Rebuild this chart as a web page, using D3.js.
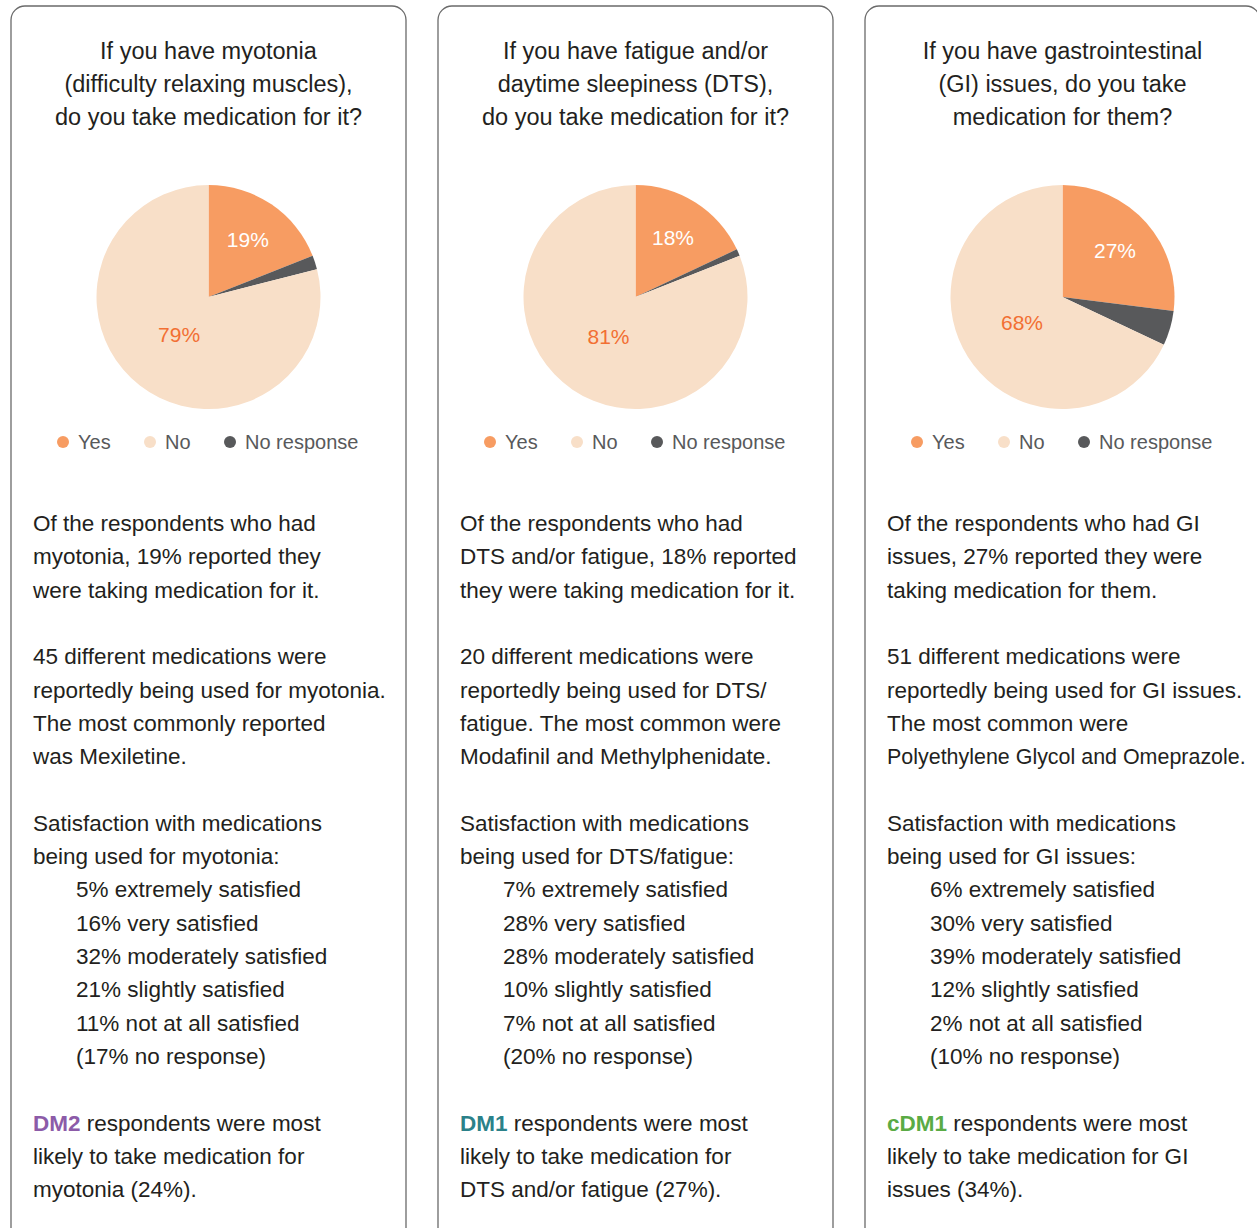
<!DOCTYPE html>
<html>
<head>
<meta charset="utf-8">
<script src="https://cdn.jsdelivr.net/npm/d3@7"></script>
<style>
  html, body { margin: 0; padding: 0; background: #ffffff; }
  svg { display: block; }
  text { font-family: "Liberation Sans", Arial, sans-serif; }
</style>
</head>
<body>
<svg id="chart" width="1257" height="1228"></svg>
<script>
// Slice categories and colours
const categories = ["Yes", "No response", "No"];
const legendOrder = ["Yes", "No", "No response"];
const sliceColors = { "Yes": "#f79c62", "No": "#f8dfc8", "No response": "#58595b" };

// Percentages per panel (myotonia, fatigue/DTS, GI)
const yesValues = [19, 18, 27];
const noResponseValues = [2, 1, 5];
const noValues = [79, 81, 68];

// Panel titles
const titles = [
  ["If you have myotonia", "(difficulty relaxing muscles),", "do you take medication for it?"],
  ["If you have fatigue and/or", "daytime sleepiness (DTS),", "do you take medication for it?"],
  ["If you have gastrointestinal", "(GI) issues, do you take", "medication for them?"]
];

// Body copy: each entry is [text, indented]
const bodyLines = [
  [
    ["Of the respondents who had", false], ["myotonia, 19% reported they", false], ["were taking medication for it.", false], ["", false],
    ["45 different medications were", false], ["reportedly being used for myotonia.", false], ["The most commonly reported", false], ["was Mexiletine.", false], ["", false],
    ["Satisfaction with medications", false], ["being used for myotonia:", false],
    ["5% extremely satisfied", true], ["16% very satisfied", true], ["32% moderately satisfied", true], ["21% slightly satisfied", true], ["11% not at all satisfied", true], ["(17% no response)", true]
  ],
  [
    ["Of the respondents who had", false], ["DTS and/or fatigue, 18% reported", false], ["they were taking medication for it.", false], ["", false],
    ["20 different medications were", false], ["reportedly being used for DTS/", false], ["fatigue. The most common were", false], ["Modafinil and Methylphenidate.", false], ["", false],
    ["Satisfaction with medications", false], ["being used for DTS/fatigue:", false],
    ["7% extremely satisfied", true], ["28% very satisfied", true], ["28% moderately satisfied", true], ["10% slightly satisfied", true], ["7% not at all satisfied", true], ["(20% no response)", true]
  ],
  [
    ["Of the respondents who had GI", false], ["issues, 27% reported they were", false], ["taking medication for them.", false], ["", false],
    ["51 different medications were", false], ["reportedly being used for GI issues.", false], ["The most common were", false], ["Polyethylene Glycol and Omeprazole.", false], ["", false],
    ["Satisfaction with medications", false], ["being used for GI issues:", false],
    ["6% extremely satisfied", true], ["30% very satisfied", true], ["39% moderately satisfied", true], ["12% slightly satisfied", true], ["2% not at all satisfied", true], ["(10% no response)", true]
  ]
];

// Closing note with highlighted group name
const groupNames = ["DM2", "DM1", "cDM1"];
const groupColors = ["#8c5ba8", "#2b8189", "#5aab45"];
const noteLines = [
  [" respondents were most", "likely to take medication for", "myotonia (24%)."],
  [" respondents were most", "likely to take medication for", "DTS and/or fatigue (27%)."],
  [" respondents were most", "likely to take medication for GI", "issues (34%)."]
];

const svg = d3.select("#chart");

const panelX = d3.scaleOrdinal().domain([0, 1, 2]).range([11, 438, 865]);
const panelW = 395;
const textLeft = 22;
const textMaxW = panelW - textLeft - 14;
const radius = 112;
const pieCY = 297;
const bodySize = 22.5;

const pie = d3.pie().sort(null).value(d => d.value);
const arc = d3.arc().innerRadius(0).outerRadius(radius);
const yesLabelArc = d3.arc().innerRadius(70).outerRadius(70);
const noLabelArc = d3.arc().innerRadius(48).outerRadius(48);

const textColor = "#231f20";

// shrink a line's font size when it would run past the panel edge
function fitLine(sel, maxW) {
  sel.each(function () {
    const w = this.getComputedTextLength();
    if (w > maxW) {
      d3.select(this).attr("font-size", bodySize * maxW / w);
    }
  });
}

[0, 1, 2].forEach(i => {
  const x0 = panelX(i);
  const g = svg.append("g").attr("transform", `translate(${x0},0)`);

  // panel frame
  g.append("rect")
    .attr("x", 0).attr("y", 6)
    .attr("width", panelW).attr("height", 1240)
    .attr("rx", 14).attr("ry", 14)
    .attr("fill", "none")
    .attr("stroke", "#6a6a6a")
    .attr("stroke-width", 1.3);

  // title
  g.append("g").selectAll("text").data(titles[i]).join("text")
    .attr("x", panelW / 2)
    .attr("y", (d, k) => 59 + k * 33)
    .attr("text-anchor", "middle")
    .attr("font-size", 23.5)
    .attr("fill", textColor)
    .text(d => d);

  // pie
  const data = [
    { key: "Yes", value: yesValues[i] },
    { key: "No response", value: noResponseValues[i] },
    { key: "No", value: noValues[i] }
  ];
  const arcs = pie(data);
  const pg = g.append("g").attr("transform", `translate(${panelW / 2},${pieCY})`);
  pg.selectAll("path").data(arcs).join("path")
    .attr("d", arc)
    .attr("fill", d => sliceColors[d.data.key]);

  const yesArc = arcs.find(a => a.data.key === "Yes");
  const noArc = arcs.find(a => a.data.key === "No");
  pg.append("text")
    .attr("transform", `translate(${yesLabelArc.centroid(yesArc)})`)
    .attr("text-anchor", "middle").attr("dy", "0.36em")
    .attr("font-size", 21).attr("fill", "#ffffff")
    .text(yesArc.data.value + "%");
  pg.append("text")
    .attr("transform", `translate(${noLabelArc.centroid(noArc)})`)
    .attr("text-anchor", "middle").attr("dy", "0.36em")
    .attr("font-size", 21).attr("fill", "#f26f33")
    .text(noArc.data.value + "%");

  // legend
  const legendX = d3.scaleOrdinal().domain(legendOrder).range([52, 139, 219]);
  const lg = g.append("g").attr("transform", "translate(0,442)");
  legendOrder.forEach(k => {
    lg.append("circle").attr("cx", legendX(k)).attr("cy", 0).attr("r", 6)
      .attr("fill", sliceColors[k]);
    lg.append("text").attr("x", legendX(k) + 15).attr("y", 0).attr("dy", "0.36em")
      .attr("font-size", 20).attr("fill", "#58595b").text(k);
  });

  // body copy
  const bg = g.append("g");
  bg.selectAll("text").data(bodyLines[i]).join("text")
    .attr("x", d => d[1] ? 65 : textLeft)
    .attr("y", (d, k) => 531 + k * 33.3)
    .attr("font-size", bodySize)
    .attr("fill", textColor)
    .text(d => d[0])
    .call(fitLine, textMaxW);

  // closing note
  const ng = g.append("g");
  noteLines[i].forEach((line, k) => {
    const t = ng.append("text")
      .attr("x", textLeft).attr("y", 1131 + k * 33)
      .attr("font-size", bodySize).attr("fill", textColor);
    if (k === 0) {
      t.append("tspan").attr("font-weight", "bold").attr("fill", groupColors[i]).text(groupNames[i]);
    }
    t.append("tspan").text(line);
  });
});
</script>
</body>
</html>
